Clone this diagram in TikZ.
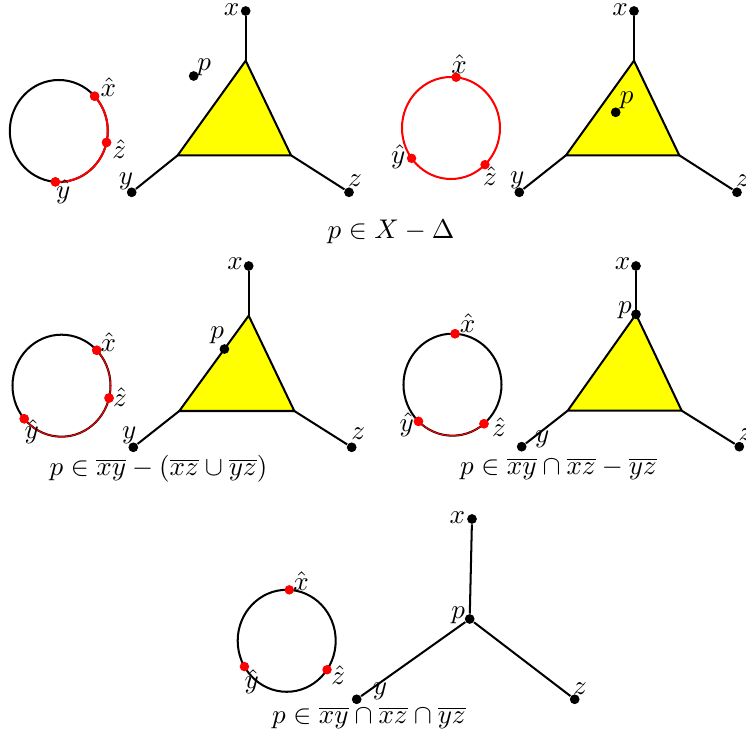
\documentclass[tikz,border=0pt]{standalone}
\usetikzlibrary{calc}
\definecolor{triyellow}{RGB}{255,255,0}
\definecolor{pured}{RGB}{255,0,0}
\begin{document}
\begin{tikzpicture}[x=0.37pt,y=-0.37pt,
  dot/.style={circle,fill=black,inner sep=0pt,minimum size=3.6pt},
  rdot/.style={circle,fill=pured,inner sep=0pt,minimum size=3.5pt},
  lbl/.style={inner sep=0pt},
  edge/.style={line width=0.75pt},
  tri/.style={fill=triyellow,draw=black,line width=0.75pt},
  ring/.style={line width=0.75pt},
  redarc/.style={pured,line width=0.75pt},
  darkarc/.style={pured,line width=0.4pt}]
\useasboundingbox (0,0) rectangle (746,733);

% ---------- Panel 1 ----------
\coordinate (c1) at (58.8,131);
\draw[ring] (c1) ellipse [x radius=49, y radius=51];
\node[rdot] (xh1) at ($(c1)+(-43:49 and 51)$) {};
\node[rdot] (zh1) at ($(c1)+(13:49 and 51)$) {};
\node[rdot] (yh1) at ($(c1)+(94:49 and 51)$) {};
\draw[redarc] (xh1.center) arc[start angle=-43, end angle=94, x radius=49, y radius=51];
\node[rdot] at (xh1) {};
\node[rdot] at (zh1) {};
\node[rdot] at (yh1) {};
\node[lbl] (lxh1) at (108.3,86.7) {$\hat{x}$};
\node[lbl] (lzh1) at (119.3,149.3) {$\hat{z}$};
\node[lbl] (lyh1) at (63.3,191.7) {$\hat{y}$};

\coordinate (T1a) at (245.7,60.7);
\coordinate (T1b) at (177.7,155.3);
\coordinate (T1c) at (291,155.3);
\node[dot] (x1) at (245.7,11) {};
\node[dot] (y1) at (131.7,192.3) {};
\node[dot] (z1) at (349,192.3) {};
\node[dot] (p1) at (193.7,76) {};
\filldraw[tri] (T1a) -- (T1b) -- (T1c) -- cycle;
\draw[edge] (T1a) -- (x1);
\draw[edge] (T1b) -- (y1);
\draw[edge] (T1c) -- (z1);
\node[lbl] (lx1) at (231.7,10) {$x$};
\node[lbl] (lp1) at (204.3,67.7) {$p$};
\node[lbl] (ly1) at (126,181) {$y$};
\node[lbl] (lz1) at (355,181) {$z$};

% ---------- Panel 2 ----------
\coordinate (c2) at (451,128);
\draw[redarc] (c2) ellipse [x radius=49, y radius=51];
\node[rdot] (xh2) at ($(c2)+(-84:49 and 51)$) {};
\node[rdot] (yh2) at ($(c2)+(143.5:49 and 51)$) {};
\node[rdot] (zh2) at ($(c2)+(46:49 and 51)$) {};
\node[lbl] (lxh2) at (459,64) {$\hat{x}$};
\node[lbl] (lyh2) at (398.3,156.7) {$\hat{y}$};
\node[lbl] (lzh2) at (490,176) {$\hat{z}$};

\coordinate (T2a) at (634,60.7);
\coordinate (T2b) at (566,155.3);
\coordinate (T2c) at (679.3,155.3);
\node[dot] (x2) at (634,11) {};
\node[dot] (y2) at (519.3,192.3) {};
\node[dot] (z2) at (737,192.3) {};
\filldraw[tri] (T2a) -- (T2b) -- (T2c) -- cycle;
\draw[edge] (T2a) -- (x2);
\draw[edge] (T2b) -- (y2);
\draw[edge] (T2c) -- (z2);
\node[dot] (p2) at (615.7,112.3) {};
\node[lbl] (lx2) at (620,10) {$x$};
\node[lbl] (lp2) at (626.7,100) {$p$};
\node[lbl] (ly2) at (517.3,180) {$y$};
\node[lbl] (lz2) at (743,181) {$z$};

\node[lbl] (cap1) at (391,232) {$p\in X-\Delta$};

% ---------- Panel 3 ----------
\coordinate (c3) at (61.5,385.7);
\draw[ring] (c3) ellipse [x radius=49, y radius=51];
\node[rdot] (xh3) at ($(c3)+(-44:49 and 51)$) {};
\node[rdot] (zh3) at ($(c3)+(14:49 and 51)$) {};
\node[rdot] (yh3) at ($(c3)+(139.5:49 and 51)$) {};
\draw[darkarc] (xh3.center) arc[start angle=-44, end angle=139.5, x radius=49, y radius=51];
\node[rdot] at (xh3) {};
\node[rdot] at (zh3) {};
\node[rdot] at (yh3) {};
\node[lbl] (lxh3) at (108.3,341.7) {$\hat{x}$};
\node[lbl] (lzh3) at (120,397.3) {$\hat{z}$};
\node[lbl] (lyh3) at (31.7,431.7) {$\hat{y}$};

\coordinate (T3a) at (248.7,315.7);
\coordinate (T3b) at (179.3,411);
\coordinate (T3c) at (294.3,411);
\node[dot] (x3) at (248.7,266) {};
\node[dot] (y3) at (133.3,447.3) {};
\node[dot] (z3) at (351.7,447.3) {};
\filldraw[tri] (T3a) -- (T3b) -- (T3c) -- cycle;
\draw[edge] (T3a) -- (x3);
\draw[edge] (T3b) -- (y3);
\draw[edge] (T3c) -- (z3);
\node[dot] (p3) at ($(T3a)!0.35!(T3b)$) {};
\node[lbl] (lx3) at (235,263.3) {$x$};
\node[lbl] (lp3) at (217.3,335) {$p$};
\node[lbl] (ly3) at (129.3,435) {$y$};
\node[lbl] (lz3) at (358.3,434) {$z$};

\node[lbl] (cap2) at (158.5,469) {$p\in\overline{xy}-(\overline{xz}\cup\overline{yz})$};

% ---------- Panel 4 ----------
\coordinate (c4) at (452.5,384.7);
\draw[ring] (c4) ellipse [x radius=49, y radius=51];
\node[rdot] (xh4) at ($(c4)+(-87:49 and 51)$) {};
\node[rdot] (yh4) at ($(c4)+(134:49 and 51)$) {};
\node[rdot] (zh4) at ($(c4)+(50:49 and 51)$) {};
\draw[darkarc] (zh4.center) arc[start angle=50, end angle=134, x radius=49, y radius=51];
\node[rdot] at (xh4) {};
\node[rdot] at (yh4) {};
\node[rdot] at (zh4) {};
\node[lbl] (lxh4) at (467.7,322.7) {$\hat{x}$};
\node[lbl] (lyh4) at (406.7,425) {$\hat{y}$};
\node[lbl] (lzh4) at (499,426.7) {$\hat{z}$};

\coordinate (T4b) at (567.7,410.7);
\coordinate (T4c) at (681.7,410.7);
\node[dot] (x4) at (636,266) {};
\node[dot] (y4) at (521.7,446.7) {};
\node[dot] (z4) at (739.3,446.7) {};
\coordinate (T4a) at (636,314.3);
\filldraw[tri] (T4a) -- (T4b) -- (T4c) -- cycle;
\draw[edge] (T4a) -- (x4);
\draw[edge] (T4b) -- (y4);
\draw[edge] (T4c) -- (z4);
\node[dot] (p4) at (T4a) {};
\node[lbl] (lx4) at (622.7,263.3) {$x$};
\node[lbl] (lp4) at (625,310) {$p$};
\node[lbl] (ly4) at (542.3,439.3) {$y$};
\node[lbl] (lz4) at (745.5,435) {$z$};

\node[lbl] (cap3) at (558.5,469) {$p\in\overline{xy}\cap\overline{xz}-\overline{yz}$};

% ---------- Panel 5 ----------
\coordinate (c5) at (286.7,640.8);
\draw[ring] (c5) ellipse [x radius=49, y radius=51];
\node[rdot] (xh5) at ($(c5)+(-87:49 and 51)$) {};
\node[rdot] (yh5) at ($(c5)+(149.6:49 and 51)$) {};
\node[rdot] (zh5) at ($(c5)+(34.6:49 and 51)$) {};
\node[lbl] (lxh5) at (301,580.7) {$\hat{x}$};
\node[lbl] (lyh5) at (251.7,681.7) {$\hat{y}$};
\node[lbl] (lzh5) at (338.3,675) {$\hat{z}$};

\node[dot] (x5) at (472,519) {};
\node[dot] (p5) at (469.7,619) {};
\node[dot] (y5) at (356.7,699.3) {};
\node[dot] (z5) at (574.7,699.3) {};
\draw[edge] (p5) -- (x5);
\draw[edge] (p5) -- (y5);
\draw[edge] (p5) -- (z5);
\node[lbl] (lx5) at (457.3,517.3) {$x$};
\node[lbl] (lp5) at (458.3,615) {$p$};
\node[lbl] (ly5) at (380,691.7) {$y$};
\node[lbl] (lz5) at (580,688.3) {$z$};

\node[lbl] (cap4) at (369,718) {$p\in\overline{xy}\cap\overline{xz}\cap\overline{yz}$};
\end{tikzpicture}
\end{document}
